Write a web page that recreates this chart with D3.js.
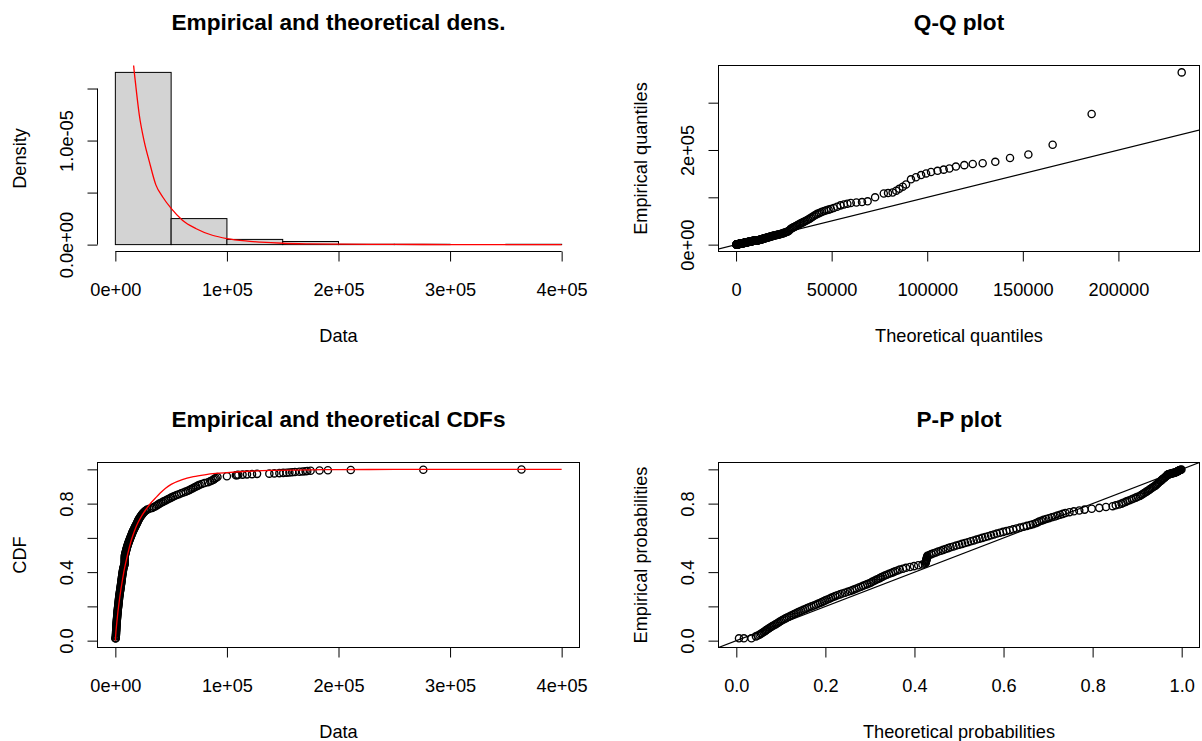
<!DOCTYPE html>
<html><head><meta charset="utf-8">
<script src="https://cdn.jsdelivr.net/npm/d3@7"></script>
<style>body{margin:0;background:#fff;} svg{display:block;}</style>
</head><body><svg id="c" width="1202" height="741"></svg>
<script>
// ---------------- data ----------------
const histBreaks = [0,50000,100000,150000,200000,250000,300000,350000,400000];
const histDensity = [1.655e-5,0.25e-5,0.05e-5,0.03e-5,0.003e-5,0.003e-5,0,0.003e-5];

const densCurveX = [14000,15000,16400,18500,21400,25900,30400,36300,42300,50000,60100,72000,86900,100000,116700,130000,150000,175000,200000,250000,300000,350000,400000];
const densCurveY = [2.1e-5,1.9e-5,1.72e-5,1.51e-5,1.25e-5,0.99e-5,0.80e-5,0.574e-5,0.46e-5,0.348e-5,0.235e-5,0.155e-5,0.09e-5,0.058e-5,0.035e-5,0.024e-5,0.013e-5,0.007e-5,0.004e-5,0.0015e-5,0.0006e-5,0.0002e-5,0.0001e-5];

const cdfCurveX = [0,500,1000,2000,3000,4000,5000,6000,8000,10000,12000,14000,16000,18000,20000,24000,28000,32000,36000,40000,45000,50000,60000,70000,80000,90000,100000,120000,140000,160000,200000,250000,300000,400000];
const cdfCurveY = [0,0.05,0.085,0.15,0.205,0.255,0.30,0.34,0.415,0.475,0.53,0.58,0.62,0.655,0.685,0.733,0.771,0.805,0.833,0.86,0.89,0.912,0.94,0.957,0.968,0.976,0.981,0.989,0.9935,0.996,0.9985,0.9995,0.9998,1.0];

// empirical probabilities of the plotted sample points
const empProb = [0.0135,0.0135,0.0135,
0.025,0.03,0.035,0.04,0.045,0.05,0.055,0.06,0.065,0.07,0.075,0.08,0.085,0.09,0.095,0.1,
0.105,0.11,0.115,0.12,0.125,0.13,0.135,0.14,0.145,0.15,0.155,0.16,0.165,0.17,0.175,0.18,0.185,0.19,0.195,0.2,
0.205,0.21,0.215,0.22,0.225,0.23,0.235,0.24,0.245,0.25,0.255,0.26,0.265,0.27,0.275,0.28,0.285,0.29,0.295,0.3,
0.305,0.31,0.315,0.32,0.325,0.33,0.335,0.34,0.345,0.35,0.355,0.36,0.365,0.37,0.375,0.38,0.385,0.39,0.395,0.4,
0.405,0.41,0.415,0.42,0.425,0.43,0.435,0.44,0.445,0.45,0.455,0.46,0.465,0.47,0.475,0.48,0.485,0.49,0.495,0.5,
0.505,0.51,0.515,0.52,0.525,0.53,0.535,0.54,0.545,0.55,0.555,0.56,0.565,0.57,0.575,0.58,0.585,0.59,0.595,0.6,
0.605,0.61,0.615,0.62,0.625,0.63,0.635,0.64,0.645,0.65,0.655,0.66,0.665,0.67,0.675,0.68,0.685,0.69,0.695,0.7,
0.705,0.71,0.715,0.72,0.725,0.73,0.735,0.74,0.745,0.75,0.755,0.76,0.765,0.77,0.775,0.78,0.785,0.79,0.795,0.8,
0.805,0.81,0.815,0.82,0.825,0.83,0.835,0.84,0.845,0.85,0.855,0.86,0.865,0.87,0.875,0.88,0.885,0.89,0.895,0.9,
0.905,0.91,0.915,0.92,0.925,0.93,0.935,0.94,0.945,0.95,0.955,0.96,0.965,
0.9664,0.9679,0.9693,
0.9707,0.9721,0.9736,0.9750,0.9764,0.9779,0.9793,0.9807,0.9821,0.9836,0.9850,0.9864,0.9879,0.9893,0.9907,0.9921,0.9936,0.9950,0.9964,0.9979,0.9993];

// sample values (empirical quantiles)
const empData = [60,170,340,
400,470,530,575,620,660,700,745,790,835,880,925,970,1015,1060,1115,
1170,1230,1290,1350,1410,1480,1550,1615,1680,1745,1810,1880,1950,2020,2090,2175,2260,2345,2430,2520,
2610,2705,2800,2880,2960,3040,3120,3200,3280,3365,3450,3545,3640,3750,3860,3980,4100,4220,4340,4450,
4560,4670,4780,4890,5000,5110,5220,5320,5420,5520,5620,5720,5820,5920,6020,6120,6220,6335,6450,6575,
6700,6830,6960,7100,7250,7470,7700,7950,8200,8380,8400,8410,8420,8430,8440,8450,8460,8470,8490,8640,
8800,9000,9200,9400,9600,9800,10000,10200,10400,10650,10900,11150,11400,11650,11900,12200,12500,12800,13100,13400,
13700,14000,14300,14600,14900,15200,15500,15850,16200,16600,17000,17350,17700,18100,18500,18900,19300,19650,20000,20350,
20700,21150,21600,22100,22600,23150,23700,24300,24900,25600,26500,27400,28500,30500,33000,34600,36000,37300,38500,39500,
41000,42500,44000,45500,47000,48500,50000,51500,53000,55000,57000,59000,61000,63000,65000,66500,68000,69500,71000,72500,
74000,75500,77500,80000,83000,85000,86500,88000,89000,90000,91500,100000,108000,
109000,110200,114000,
118000,122500,127000,138000,142500,147000,150500,153500,156000,158500,161000,165000,168000,170500,172000,175000,183000,190500,211000,276000,364000];

// theoretical quantiles (Q-Q x)
const theoQuant = [135,135,135,
250,300,350,400,450,500,571,643,714,786,857,929,1000,1077,1154,1231,
1308,1385,1462,1538,1615,1692,1769,1846,1923,2000,2091,2182,2273,2364,2455,2545,2636,2727,2818,2909,
3000,3100,3200,3300,3400,3500,3600,3700,3800,3900,4000,4111,4222,4333,4444,4556,4667,4778,4889,5000,
5125,5250,5375,5500,5625,5750,5875,6000,6125,6250,6375,6500,6625,6750,6875,7000,7143,7286,7429,7571,
7714,7857,8000,8167,8333,8500,8667,8833,9000,9167,9333,9500,9667,9833,10000,10182,10364,10545,10727,10909,
11091,11273,11455,11636,11818,12000,12200,12400,12600,12800,13000,13200,13400,13600,13800,14000,14250,14500,14750,15000,
15250,15500,15750,16000,16286,16571,16857,17143,17429,17714,18000,18333,18667,19000,19333,19667,20000,20400,20800,21200,
21600,22000,22435,22870,23304,23739,24200,24700,25200,25700,26222,26778,27333,27900,28500,29125,29750,30333,30889,31444,
32000,32714,33429,34143,34857,35571,36296,37037,37778,38519,39259,40000,40833,41667,42500,43333,44167,45000,46136,47273,
48409,49545,51071,52857,54643,56429,58214,60000,62941,65882,68824,72727,77273,
79500,81900,83800,
85400,87200,88900,91500,94100,96800,99400,102000,105400,108600,111600,115000,119400,123800,129000,135600,143300,152900,165600,186000,233100];

// theoretical probabilities (P-P x)
const theoProb = [0.006,0.017,0.034,
0.044,0.048,0.052,0.055,0.058,0.061,0.064,0.0665,0.069,0.072,0.075,0.078,0.081,0.0845,0.088,0.091,
0.094,0.097,0.100,0.1035,0.107,0.1105,0.114,0.118,0.122,0.126,0.130,0.134,0.138,0.142,0.146,0.1505,0.155,0.1595,0.164,0.169,
0.174,0.1785,0.183,0.1875,0.192,0.196,0.200,0.2045,0.209,0.213,0.217,0.222,0.227,0.2325,0.238,0.244,0.250,0.2555,0.261,0.2655,
0.270,0.275,0.280,0.2845,0.289,0.294,0.299,0.3025,0.306,0.310,0.314,0.318,0.322,0.3255,0.329,0.3335,0.338,0.343,0.348,0.3525,
0.357,0.362,0.367,0.374,0.381,0.390,0.399,0.4085,0.418,0.4235,0.4255,0.4258,0.426,0.4265,0.427,0.4275,0.428,0.4285,0.429,0.4335,
0.438,0.443,0.448,0.4535,0.459,0.4645,0.470,0.4755,0.481,0.4875,0.494,0.5005,0.507,0.5135,0.520,0.5265,0.533,0.5395,0.546,0.5525,
0.559,0.5655,0.572,0.5785,0.585,0.592,0.599,0.6065,0.614,0.6215,0.629,0.637,0.645,0.6525,0.660,0.666,0.672,0.676,0.680,0.685,
0.690,0.696,0.702,0.7085,0.715,0.721,0.727,0.733,0.739,0.748,0.758,0.770,0.782,0.798,0.815,0.830,0.845,0.852,0.859,0.865,
0.869,0.874,0.878,0.883,0.888,0.892,0.897,0.901,0.906,0.909,0.912,0.915,0.918,0.921,0.924,0.927,0.929,0.932,0.935,0.938,
0.941,0.943,0.945,0.947,0.949,0.952,0.954,0.956,0.958,0.961,0.963,0.965,0.967,
0.968,0.9685,0.969,
0.970,0.972,0.974,0.976,0.978,0.980,0.982,0.984,0.985,0.987,0.988,0.989,0.990,0.991,0.992,0.993,0.994,0.995,0.996,0.998,0.9995];

// ticks and labels
const dataTicks = [0,100000,200000,300000,400000];
const dataLabels = ["0e+00","1e+05","2e+05","3e+05","4e+05"];
const densTicks = [0,0.5e-5,1e-5,1.5e-5];
const densLabels = ["0.0e+00","","1.0e-05",""];
const qqXTicks = [0,50000,100000,150000,200000];
const qqXLabels = ["0","50000","100000","150000","200000"];
const qqYTicks = [0,100000,200000,300000];
const qqYLabels = ["0e+00","","2e+05",""];
const probTicks = [0,0.2,0.4,0.6,0.8,1.0];
const probXLabels = ["0.0","0.2","0.4","0.6","0.8","1.0"];
const probYLabels = ["0.0","","0.4","","0.8",""];

const titles = ["Empirical and theoretical dens.","Q-Q plot","Empirical and theoretical CDFs","P-P plot"];

// ---------------- layout ----------------
const FONT = '"Liberation Sans", Arial, Helvetica, sans-serif';
const svg = d3.select("#c");
const LX = [97.5, 579.5], RX = [718.5, 1199.5];
const TY = [65.5, 251.5], BY = [462.5, 647.5];
const AX = 18.2, TITLE = 22.6;
const NPT = Math.min(empProb.length, empData.length, theoQuant.length, theoProb.length);

function ext(lo, hi){ const r = hi - lo; return [lo - 0.04*r, hi + 0.04*r]; }

let clipN = 0;
function addClip(xr, yr){
  const id = "clip" + (clipN++);
  svg.append("clipPath").attr("id", id).append("rect")
    .attr("x", xr[0]).attr("y", yr[0]).attr("width", xr[1]-xr[0]).attr("height", yr[1]-yr[0]);
  return "url(#" + id + ")";
}

function bottomAxis(x, yPos, ticks, labels){
  const ax = d3.axisBottom(x).tickValues(ticks).tickFormat((d,i)=>labels[i]).tickSize(10).tickSizeOuter(0);
  const a = svg.append("g").attr("transform", `translate(0,${yPos})`).call(ax);
  a.attr("font-size", AX).attr("font-family", FONT);
  a.select(".domain").remove();
  a.append("line").attr("x1", x(ticks[0])).attr("x2", x(ticks[ticks.length-1]))
    .attr("stroke", "#000").attr("stroke-width", 1);
  a.selectAll(".tick line").attr("stroke", "#000");
  a.selectAll(".tick text").attr("y", 38).attr("dy", "0.35em").attr("fill", "#000");
}
function leftAxis(y, xPos, ticks, labels){
  const ax = d3.axisLeft(y).tickValues(ticks).tickFormat((d,i)=>labels[i]).tickSize(10).tickSizeOuter(0);
  const a = svg.append("g").attr("transform", `translate(${xPos},0)`).call(ax);
  a.attr("font-size", AX).attr("font-family", FONT);
  a.select(".domain").remove();
  a.append("line").attr("y1", y(ticks[0])).attr("y2", y(ticks[ticks.length-1]))
    .attr("stroke", "#000").attr("stroke-width", 1);
  a.selectAll(".tick line").attr("stroke", "#000");
  a.selectAll(".tick text").attr("x", 0).attr("dy", "0.35em").attr("text-anchor", "middle")
    .attr("fill", "#000").attr("transform", "translate(-31,0) rotate(-90)");
}
function box(xr, yr){
  svg.append("rect").attr("x", xr[0]).attr("y", yr[0]).attr("width", xr[1]-xr[0]).attr("height", yr[1]-yr[0])
    .attr("fill", "none").attr("stroke", "#000").attr("stroke-width", 1);
}
function labels(xr, yr, title, xlab, ylab){
  const cx = (xr[0]+xr[1])/2, cy = (yr[0]+yr[1])/2;
  svg.append("text").attr("x", cx).attr("y", yr[0]-43).attr("dy", "0.35em").attr("text-anchor", "middle")
    .attr("font-family", FONT).attr("font-size", TITLE).attr("font-weight", "bold").text(title);
  svg.append("text").attr("x", cx).attr("y", yr[1]+84).attr("dy", "0.35em").attr("text-anchor", "middle")
    .attr("font-family", FONT).attr("font-size", AX).text(xlab);
  svg.append("text").attr("transform", `translate(${xr[0]-78},${cy}) rotate(-90)`).attr("dy", "0.35em")
    .attr("text-anchor", "middle").attr("font-family", FONT).attr("font-size", AX).text(ylab);
}
function circles(g, xs, ys, x, y){
  g.selectAll("circle").data(d3.range(NPT)).join("circle")
    .attr("cx", i=>x(xs[i])).attr("cy", i=>y(ys[i])).attr("r", 3.6)
    .attr("fill", "none").attr("stroke", "#000").attr("stroke-width", 1.35);
}

// ---------------- panel 1 : density ----------------
{
  const x = d3.scaleLinear().domain(ext(0, 400000)).range(LX);
  const y = d3.scaleLinear().domain(ext(0, d3.max(histDensity))).range([TY[1], TY[0]]);
  const clip = addClip(LX, TY);
  const g = svg.append("g").attr("clip-path", clip);
  g.selectAll("rect").data(histDensity).join("rect")
    .attr("x", (d,i)=>x(histBreaks[i])).attr("width", (d,i)=>x(histBreaks[i+1])-x(histBreaks[i]))
    .attr("y", d=>y(d)).attr("height", d=>y(0)-y(d))
    .attr("fill", "#d3d3d3").attr("stroke", "#000").attr("stroke-width", 1);
  const line = d3.line().x((d,i)=>x(densCurveX[i])).y((d,i)=>y(densCurveY[i])).curve(d3.curveMonotoneX);
  g.append("path").datum(densCurveX).attr("d", line).attr("fill", "none").attr("stroke", "#ff0000").attr("stroke-width", 1.3);
  bottomAxis(x, TY[1], dataTicks, dataLabels);
  leftAxis(y, LX[0], densTicks, densLabels);
  labels(LX, TY, titles[0], "Data", "Density");
}

// ---------------- panel 2 : Q-Q ----------------
{
  const x = d3.scaleLinear().domain(ext(d3.min(theoQuant), d3.max(theoQuant))).range(RX);
  const y = d3.scaleLinear().domain(ext(d3.min(empData), d3.max(empData))).range([TY[1], TY[0]]);
  const clip = addClip(RX, TY);
  const g = svg.append("g").attr("clip-path", clip);
  circles(g, theoQuant, empData, x, y);
  const lo = Math.min(x.domain()[0], y.domain()[0]), hi = Math.max(x.domain()[1], y.domain()[1]);
  g.append("line").attr("x1", x(lo)).attr("y1", y(lo)).attr("x2", x(hi)).attr("y2", y(hi))
    .attr("stroke", "#000").attr("stroke-width", 1.2);
  box(RX, TY);
  bottomAxis(x, TY[1], qqXTicks, qqXLabels);
  leftAxis(y, RX[0], qqYTicks, qqYLabels);
  labels(RX, TY, titles[1], "Theoretical quantiles", "Empirical quantiles");
}

// ---------------- panel 3 : CDF ----------------
{
  const x = d3.scaleLinear().domain(ext(0, 400000)).range(LX);
  const y = d3.scaleLinear().domain(ext(0, 1)).range([BY[1], BY[0]]);
  const clip = addClip(LX, BY);
  const g = svg.append("g").attr("clip-path", clip);
  circles(g, empData, empProb, x, y);
  const line = d3.line().x((d,i)=>x(cdfCurveX[i])).y((d,i)=>y(cdfCurveY[i])).curve(d3.curveMonotoneX);
  g.append("path").datum(cdfCurveX).attr("d", line).attr("fill", "none").attr("stroke", "#ff0000").attr("stroke-width", 1.3);
  box(LX, BY);
  bottomAxis(x, BY[1], dataTicks, dataLabels);
  leftAxis(y, LX[0], probTicks, probYLabels);
  labels(LX, BY, titles[2], "Data", "CDF");
}

// ---------------- panel 4 : P-P ----------------
{
  const x = d3.scaleLinear().domain(ext(0, 1)).range(RX);
  const y = d3.scaleLinear().domain(ext(0, 1)).range([BY[1], BY[0]]);
  const clip = addClip(RX, BY);
  const g = svg.append("g").attr("clip-path", clip);
  circles(g, theoProb, empProb, x, y);
  g.append("line").attr("x1", x(-0.04)).attr("y1", y(-0.04)).attr("x2", x(1.04)).attr("y2", y(1.04))
    .attr("stroke", "#000").attr("stroke-width", 1.2);
  box(RX, BY);
  bottomAxis(x, BY[1], probTicks, probXLabels);
  leftAxis(y, RX[0], probTicks, probYLabels);
  labels(RX, BY, titles[3], "Theoretical probabilities", "Empirical probabilities");
}
</script></body></html>
